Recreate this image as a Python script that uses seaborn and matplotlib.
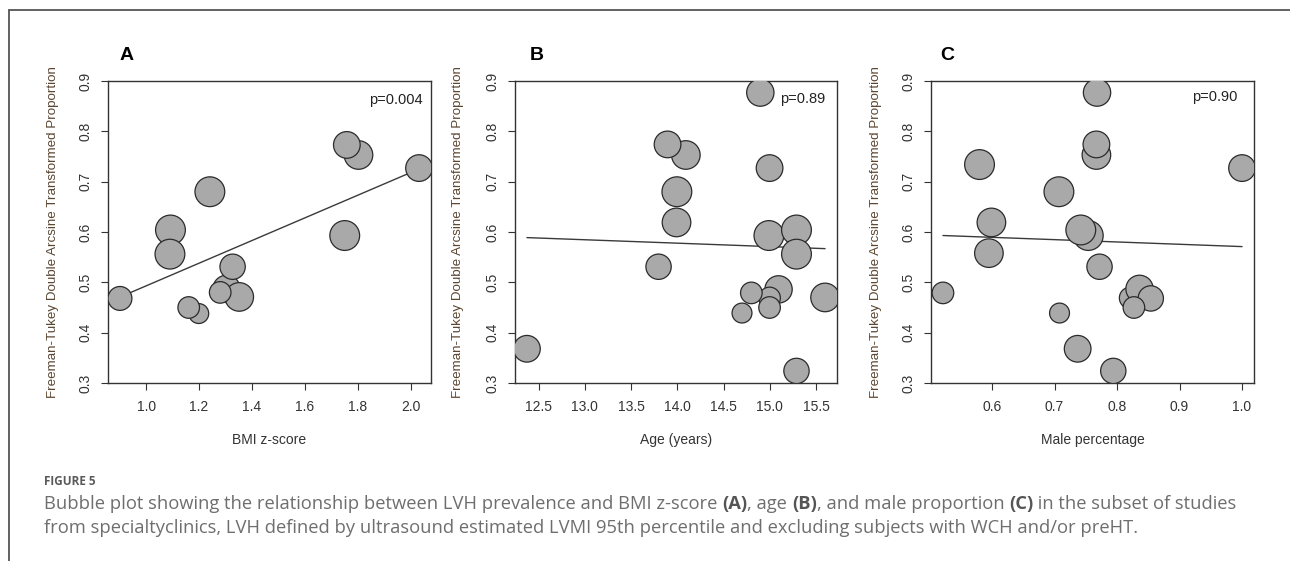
import numpy as np
import pandas as pd
import matplotlib
matplotlib.use("Agg")
import matplotlib.pyplot as plt
from matplotlib.lines import Line2D
import seaborn as sns

# Panel A - BMI z-score
a_x = [0.901, 1.199, 1.161, 1.092, 1.090, 1.241, 1.304, 1.352, 1.280, 1.327,
       1.803, 1.759, 1.751, 2.032]
a_y = [0.468, 0.438, 0.450, 0.604, 0.556, 0.680, 0.487, 0.471, 0.480, 0.531,
       0.753, 0.773, 0.593, 0.727]
a_w = [33, 28, 30, 42, 42, 42, 38, 40, 30, 35, 40, 37, 42, 37]
a_fit = (0.268, 0.225)  # intercept, slope

# Panel B - Age
b_x = [12.374, 13.797, 14.092, 13.894, 13.995, 13.991, 14.897, 14.997, 14.990,
       15.288, 15.288, 15.094, 14.997, 14.997, 14.800, 14.699, 15.597, 15.288]
b_y = [0.368, 0.531, 0.753, 0.774, 0.680, 0.619, 0.877, 0.727, 0.593,
       0.604, 0.556, 0.486, 0.469, 0.450, 0.479, 0.439, 0.470, 0.324]
b_w = [37, 35, 40, 37, 42, 40, 38, 37, 42, 42, 42, 38, 30, 30, 30, 28, 40, 35]
b_fit = (0.673, -0.0068)

# Panel C - Male percentage
c_x = [0.5215, 0.580, 0.599, 0.595, 0.707, 0.708, 0.737, 0.768, 0.767, 0.767,
       0.754, 0.742, 0.772, 0.794, 0.821, 0.836, 0.854, 0.827, 1.000]
c_y = [0.479, 0.734, 0.619, 0.558, 0.680, 0.439, 0.368, 0.877, 0.753, 0.774,
       0.593, 0.604, 0.531, 0.324, 0.469, 0.487, 0.468, 0.450, 0.727]
c_w = [30, 42, 40, 40, 42, 28, 37, 38, 40, 37, 42, 42, 35, 35, 30, 38, 35, 30, 37]
c_fit = (0.617, -0.046)

panels = [
    ("A", a_x, a_y, a_w, a_fit, "BMI z-score", "p=0.004", [1.0, 1.2, 1.4, 1.6, 1.8, 2.0]),
    ("B", b_x, b_y, b_w, b_fit, "Age (years)", "p=0.89", [12.5, 13.0, 13.5, 14.0, 14.5, 15.0, 15.5]),
    ("C", c_x, c_y, c_w, c_fit, "Male percentage", "p=0.90", [0.6, 0.7, 0.8, 0.9, 1.0]),
]
y_ticks = [0.3, 0.4, 0.5, 0.6, 0.7, 0.8, 0.9]
y_title = "Freeman-Tukey Double Arcsine Transformed Proportion"

caption_head = "FIGURE 5"
caption_line1 = [
    ("Bubble plot showing the relationship between LVH prevalence and BMI z-score ", False),
    ("(A)", True), (", age ", False), ("(B)", True),
    (", and male proportion ", False), ("(C)", True),
    (" in the subset of studies", False),
]
caption_line2 = [("from specialtyclinics, LVH defined by ultrasound estimated LVMI 95th "
                  "percentile and excluding subjects with WCH and/or preHT.", False)]

W, H = 1290, 561
sns.set_theme(style="white")
plt.rcParams["font.family"] = ["Liberation Sans", "DejaVu Sans"]

fig = plt.figure(figsize=(W / 100, H / 100), dpi=100)

# layout in pixels: (left, right)
boxes = [(108, 431), (515, 837), (931, 1254)]
top, bottom = 81, 383
p_pos = [(0.975, 0.937), (0.963, 0.940), (0.950, 0.947)]
letter_x = [0.056, 0.068, 0.050]
ylab_x = [-0.170, -0.177, -0.170]

for i, (lab, xs, ys, ws, fit, xlabel, ptxt, xticks) in enumerate(panels):
    l, r = boxes[i]
    ax = fig.add_axes([l / W, (H - bottom) / H, (r - l) / W, (bottom - top) / H])
    df = pd.DataFrame({"x": xs, "y": ys, "w": ws})

    # meta-regression line, under the bubbles
    lx = np.array([min(xs), max(xs)])
    ax.plot(lx, fit[0] + fit[1] * lx, color="#3a3a3a", lw=1.0, zorder=2)

    sns.scatterplot(data=df, x="x", y="y", size="w", sizes=(205, 460),
                    size_norm=(28, 42), color="#a9a9a9", edgecolor="#2b2b2b",
                    linewidth=0.9, legend=False, ax=ax, zorder=3)

    pad = 0.04 * (max(xs) - min(xs))
    ax.set_xlim(min(xs) - pad, max(xs) + pad)
    ax.set_ylim(0.3, 0.9)
    ax.set_xticks(xticks)
    ax.set_xticklabels([f"{t:.1f}" for t in xticks])
    ax.set_yticks(y_ticks)
    ax.set_yticklabels([f"{t:.1f}" for t in y_ticks])

    for sp in ax.spines.values():
        sp.set_visible(True)
        sp.set_color("#333333")
        sp.set_linewidth(1.0)
    ax.tick_params(axis="both", direction="out", length=5, width=0.8,
                   color="#333333", labelsize=10, labelcolor="#333333",
                   bottom=True, left=True)
    ax.tick_params(axis="x", pad=7)
    ax.tick_params(axis="y", pad=6, labelrotation=90)
    for t in ax.get_yticklabels():
        t.set_va("center")

    ax.set_xlabel(xlabel, fontsize=10, color="#333333", va="center")
    ax.xaxis.set_label_coords(0.5, -0.189)
    ax.set_ylabel(y_title, fontsize=9.6, color="#5a4530", va="center")
    ax.yaxis.set_label_coords(ylab_x[i], 0.5)

    ax.text(p_pos[i][0], p_pos[i][1], ptxt, transform=ax.transAxes,
            ha="right", va="center", fontsize=10.5, color="#222222")
    ax.text(letter_x[i], 1.086, lab, transform=ax.transAxes, ha="center",
            va="center", fontsize=14, fontweight="bold", color="black")

# page frame (top and left rules)
fig.add_artist(Line2D([9 / W, 1.0], [1 - 10 / H, 1 - 10 / H], color="#555555", lw=1.3))
fig.add_artist(Line2D([9 / W, 9 / W], [0.0, 1 - 10 / H], color="#555555", lw=1.3))

# caption
cap_font = ["Open Sans", "DejaVu Sans"]
renderer = fig.canvas.get_renderer()


def rich_line(parts, x_px, base_px, size):
    x = x_px
    for txt, bold in parts:
        t = fig.text(x / W, 1 - base_px / H, txt, fontsize=size, family=cap_font,
                     fontweight="bold" if bold else "normal",
                     color="#555555" if bold else "#6e6e6e",
                     ha="left", va="baseline")
        x += t.get_window_extent(renderer).width
    return x


fig.text(44 / W, 1 - 485 / H, caption_head, fontsize=8.5, family=cap_font,
         fontweight="bold", color="#5a5a5a", ha="left", va="baseline")

# size the caption so the first line spans its width in the reference
probe = fig.text(0, 0, "".join(p for p, _ in caption_line1), fontsize=13, family=cap_font)
w13 = probe.get_window_extent(renderer).width
probe.remove()
cap_size = 13 * (1225 - 44) / w13
rich_line(caption_line1, 44, 509, cap_size)
rich_line(caption_line2, 44, 533, cap_size)

fig.savefig("out.png", dpi=100)
